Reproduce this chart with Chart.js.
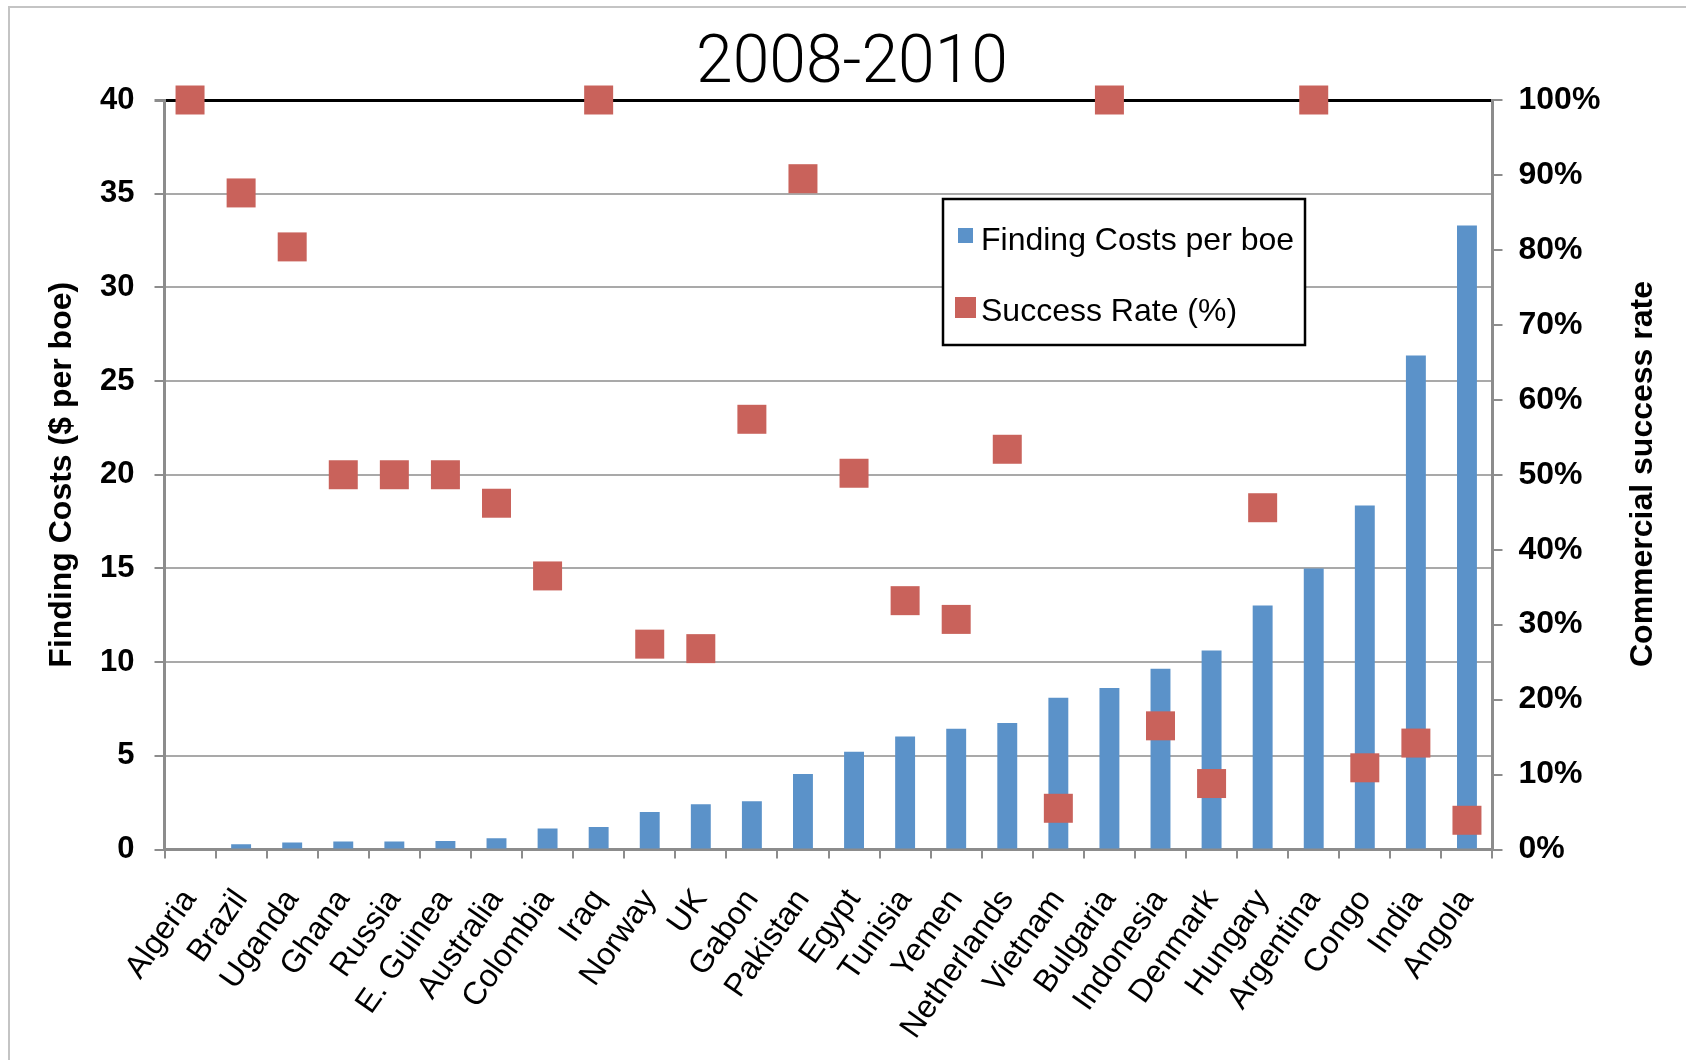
<!DOCTYPE html>
<html>
<head>
<meta charset="utf-8">
<script src="https://cdn.jsdelivr.net/npm/chart.js@4.4.1/dist/chart.umd.min.js"></script>
<style>
  html, body { margin: 0; padding: 0; background: #fff; }
  #wrap { position: relative; width: 1686px; height: 1060px; }
</style>
</head>
<body>
<div id="wrap"><canvas id="costChart"></canvas></div>
<script>
const countries = ["Algeria", "Brazil", "Uganda", "Ghana", "Russia", "E. Guinea", "Australia", "Colombia",
  "Iraq", "Norway", "UK", "Gabon", "Pakistan", "Egypt", "Tunisia", "Yemen", "Netherlands", "Vietnam",
  "Bulgaria", "Indonesia", "Denmark", "Hungary", "Argentina", "Congo", "India", "Angola"];
// $ per boe
const findingCosts = [0, 0.28, 0.38, 0.43, 0.43, 0.45, 0.6, 1.12, 1.2, 2.0, 2.42, 2.57, 4.03, 5.22, 6.03,
  6.45, 6.75, 8.1, 8.62, 9.65, 10.62, 13.02, 15.0, 18.36, 26.36, 33.3];
// percent
const successRate = [100, 87.6, 80.4, 50, 50, 50, 46.2, 36.5, 100, 27.4, 26.8, 57.4, 89.5, 50.2, 33.2,
  30.7, 53.4, 5.5, 100, 16.5, 8.8, 45.6, 100, 10.9, 14.2, 3.9];
const costTicks = [0, 5, 10, 15, 20, 25, 30, 35, 40];
const rateTicks = [0, 10, 20, 30, 40, 50, 60, 70, 80, 90, 100];

const BLUE = "#5b92c9";
const RED = "#c9625b";
const AXIS_GREY = "#8c8c8c";
const SANS = "'Liberation Sans', Arial, sans-serif";

// frame, title, right-hand title and the boxed legend
const extras = {
  id: "extras",
  beforeDraw(chart) {
    const ctx = chart.ctx;
    ctx.save();
    ctx.strokeStyle = "#c4c4c4";
    ctx.lineWidth = 2;
    ctx.beginPath();
    ctx.moveTo(9, 1060);
    ctx.lineTo(9, 7);
    ctx.lineTo(1686, 7);
    ctx.stroke();

    ctx.font = "300 66px Roboto, sans-serif";
    ctx.fillStyle = "#000";
    ctx.textAlign = "center";
    ctx.textBaseline = "alphabetic";
    ctx.fillText("2008-2010", 852, 82);
    ctx.restore();
  },
  afterDatasetsDraw(chart) {
    const ctx = chart.ctx;
    ctx.save();
    // right axis title, reads bottom to top
    ctx.translate(1643, 474);
    ctx.rotate(-Math.PI / 2);
    ctx.font = "bold 32px " + SANS;
    ctx.fillStyle = "#000";
    ctx.textAlign = "center";
    ctx.textBaseline = "middle";
    ctx.fillText("Commercial success rate", 0, 0);
    ctx.restore();

    // legend
    ctx.save();
    ctx.fillStyle = "#fff";
    ctx.fillRect(943, 199, 362, 146);
    ctx.strokeStyle = "#000";
    ctx.lineWidth = 2.5;
    ctx.strokeRect(943, 199, 362, 146);
    const ds = chart.data.datasets;
    ctx.font = "32px " + SANS;
    ctx.textBaseline = "alphabetic";
    ctx.textAlign = "left";
    ctx.fillStyle = ds[1].backgroundColor;
    ctx.fillRect(958, 228, 15, 15);
    ctx.fillStyle = "#000";
    ctx.fillText(ds[1].label, 981, 250);
    ctx.fillStyle = ds[0].backgroundColor;
    ctx.fillRect(955, 297, 21, 21);
    ctx.fillStyle = "#000";
    ctx.fillText(ds[0].label, 981, 321);
    ctx.restore();
  }
};

new Chart(document.getElementById("costChart"), {
  type: "bar",
  data: {
    labels: countries,
    datasets: [
      {
        type: "line",
        label: "Success Rate (%)",
        data: successRate,
        yAxisID: "yRate",
        showLine: false,
        pointStyle: "rect",
        pointRadius: 20.5,
        pointHoverRadius: 20.5,
        pointBackgroundColor: RED,
        pointBorderWidth: 0,
        backgroundColor: RED,
        borderColor: RED,
        clip: false,
        order: 0
      },
      {
        type: "bar",
        label: "Finding Costs per boe",
        data: findingCosts,
        yAxisID: "yCost",
        backgroundColor: BLUE,
        barPercentage: 0.39,
        categoryPercentage: 1,
        order: 1
      }
    ]
  },
  options: {
    responsive: true,
    maintainAspectRatio: false,
    animation: false,
    events: [],
    layout: { padding: { top: 100, left: 0, right: 0, bottom: 0 } },
    plugins: {
      legend: { display: false },
      tooltip: { enabled: false },
      title: { display: false }
    },
    scales: {
      x: {
        offset: true,
        grid: { offset: true, drawOnChartArea: false, tickLength: 9, tickColor: AXIS_GREY, lineWidth: 2 },
        border: { color: AXIS_GREY, width: 3 },
        ticks: {
          color: "#000",
          autoSkip: false,
          minRotation: 55,
          maxRotation: 55,
          padding: 24,
          font: { family: SANS, size: 32 }
        },
        afterFit(scale) { scale.height = 210.5; }
      },
      yCost: {
        position: "left",
        min: 0,
        max: 40,
        afterBuildTicks(scale) { scale.ticks = costTicks.map(v => ({ value: v })); },
        grid: {
          color: ctx => (ctx.tick && ctx.tick.value === 40 ? "#000" : "#a9a9a9"),
          lineWidth: ctx => (ctx.tick && ctx.tick.value === 40 ? 3 : 2),
          tickLength: 10,
          tickColor: AXIS_GREY
        },
        border: { color: AXIS_GREY, width: 3 },
        ticks: {
          color: "#000",
          padding: 20,
          font: { family: SANS, size: 31, weight: "bold" }
        },
        title: {
          display: true,
          text: "Finding Costs ($ per boe)",
          color: "#000",
          font: { family: SANS, size: 32, weight: "bold", lineHeight: 1.2 },
          padding: { top: 43, bottom: 0 }
        },
        afterFit(scale) { scale.width = 164.5; }
      },
      yRate: {
        position: "right",
        min: 0,
        max: 100,
        afterBuildTicks(scale) { scale.ticks = rateTicks.map(v => ({ value: v })); },
        grid: { drawOnChartArea: false, tickLength: 10, tickColor: AXIS_GREY, lineWidth: 2 },
        border: { color: AXIS_GREY, width: 3 },
        ticks: {
          color: "#000",
          padding: 16,
          callback: v => v + "%",
          font: { family: SANS, size: 32, weight: "bold" }
        },
        afterFit(scale) { scale.width = 193.5; }
      }
    }
  },
  plugins: [extras]
});
</script>
</body>
</html>
